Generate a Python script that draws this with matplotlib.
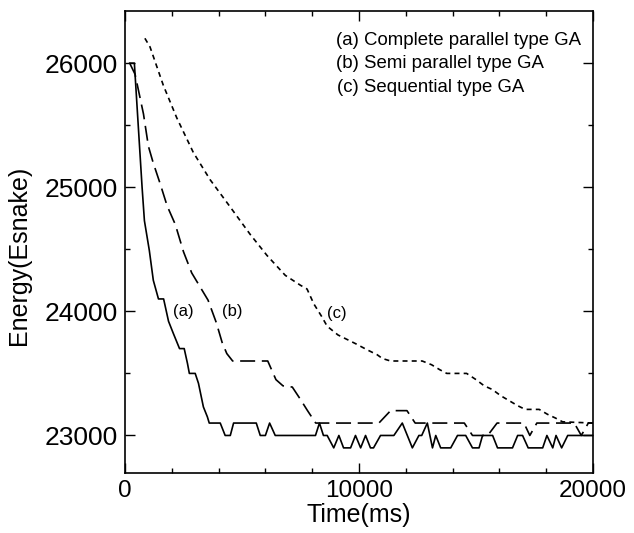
import matplotlib
matplotlib.use("Agg")
import matplotlib.pyplot as plt
from matplotlib.ticker import MultipleLocator

plt.rcParams['font.family'] = ['Liberation Sans', 'DejaVu Sans']

# (a) Complete parallel type GA
t_a = [200, 400, 730, 830, 1040, 1210, 1430, 1650, 1860, 2070,
       2330, 2530, 2670, 2750, 3000, 3140, 3350, 3520, 3600, 4070,
       4280, 4500, 4640, 5610, 5780, 6000, 6180, 6420, 8140, 8310,
       8480, 8640, 8920, 9140, 9340, 9640, 9850, 10070, 10280, 10490,
       10620, 10920, 11490, 11850, 12280, 12560, 12680, 12920, 13140, 13280,
       13490, 13920, 14210, 14560, 14850, 15130, 15280, 15710, 15920, 16560,
       16780, 16990, 17230, 17850, 18030, 18280, 18420, 18660, 18920, 20000]
E_a = [26000, 26000, 25000, 24730, 24490, 24250, 24100, 24100, 23920, 23820,
       23700, 23700, 23580, 23500, 23500, 23420, 23230, 23150, 23100, 23100,
       23000, 23000, 23100, 23100, 23000, 23000, 23100, 23000, 23000, 23100,
       23000, 23000, 22900, 23000, 22900, 22900, 23000, 22900, 23000, 22900,
       22900, 23000, 23000, 23100, 22900, 23000, 23000, 23100, 22900, 23000,
       22900, 22900, 23000, 23000, 22900, 22900, 23000, 23000, 22900, 22900,
       23000, 23000, 22900, 22900, 23000, 22900, 23000, 22900, 23000, 23000]

# (b) Semi parallel type GA
t_b = [200, 430, 790, 1000, 1200, 1500, 1800, 2150, 2500, 2850,
       3200, 3550, 3900, 4150, 4350, 4600, 6100, 6450, 6750, 7150,
       7500, 7800, 8150, 10850, 11350, 12050, 12400, 14500, 14850, 15500,
       15900, 17050, 17300, 17600, 19200, 19500, 19800, 20000]
E_b = [26000, 25910, 25590, 25330, 25200, 25030, 24850, 24700, 24480, 24310,
       24200, 24090, 23910, 23750, 23660, 23600, 23600, 23450, 23400, 23390,
       23290, 23200, 23100, 23100, 23200, 23200, 23100, 23100, 23000, 23000,
       23100, 23100, 23000, 23100, 23100, 23000, 23100, 23100]

# (c) Sequential type GA
t_c = [850, 1070, 1640, 2210, 2920, 3640, 4500, 5350, 6070, 6850,
       7500, 7780, 8070, 8400, 8640, 9100, 9850, 10350, 10780, 11000,
       11350, 12700, 13100, 13450, 13750, 14600, 15000, 15350, 15700, 16060,
       16420, 16780, 17100, 17700, 18060, 18400, 18700, 20000]
E_c = [26200, 26130, 25820, 25560, 25280, 25060, 24840, 24620, 24450, 24290,
       24210, 24180, 24060, 23960, 23880, 23810, 23740, 23690, 23650, 23620,
       23600, 23600, 23570, 23530, 23500, 23500, 23450, 23400, 23370, 23320,
       23280, 23240, 23210, 23210, 23170, 23140, 23110, 23100]

legend_lines = ["(a) Complete parallel type GA",
                "(b) Semi parallel type GA",
                "(c) Sequential type GA"]
curve_labels = ["(a)", "(b)", "(c)"]

fig = plt.figure(figsize=(6.34, 5.33), dpi=100)
ax = fig.add_axes([125/634, 1-472.7/533, (593-125)/634, (472.7-11)/533])

lw = 1.2
ax.plot(t_a, E_a, color='black', lw=lw, linestyle='-')
ax.plot(t_b, E_b, color='black', lw=lw, linestyle=(0, (9, 4)))
ax.plot(t_c, E_c, color='black', lw=lw, linestyle=(0, (3, 2.5)))

ax.set_xlim(0, 20000)
ax.set_ylim(22700, 26420)
ax.xaxis.set_major_locator(MultipleLocator(10000))
ax.xaxis.set_minor_locator(MultipleLocator(2000))
ax.yaxis.set_major_locator(MultipleLocator(1000))
ax.yaxis.set_minor_locator(MultipleLocator(500))
ax.tick_params(which='both', direction='in', top=True, right=True,
               width=1.0, pad=6)
ax.tick_params(axis='x', labelsize=17.5, pad=5)
ax.tick_params(axis='y', labelsize=19, pad=5)
ax.tick_params(which='major', length=7)
ax.tick_params(which='minor', length=3.5)
for s in ax.spines.values():
    s.set_linewidth(1.2)

ax.set_xlabel("Time(ms)", fontsize=18, labelpad=1)
ax.set_ylabel("Energy(Esnake)", fontsize=18, labelpad=4)
ax.yaxis.set_label_coords(-0.2, 0.47)

# curve labels
ax.text(2050, 24000, curve_labels[0], fontsize=12, va='center', ha='left')
ax.text(4150, 24000, curve_labels[1], fontsize=12, va='center', ha='left')
ax.text(8650, 23980, curve_labels[2], fontsize=12, va='center', ha='left')

# legend text
ax.text(9000, 26185, legend_lines[0], fontsize=13.4, va='center', ha='left')
ax.text(9000, 25998, legend_lines[1], fontsize=13.4, va='center', ha='left')
ax.text(9070, 25805, legend_lines[2], fontsize=13.4, va='center', ha='left')

fig.savefig("out.png", dpi=100)
